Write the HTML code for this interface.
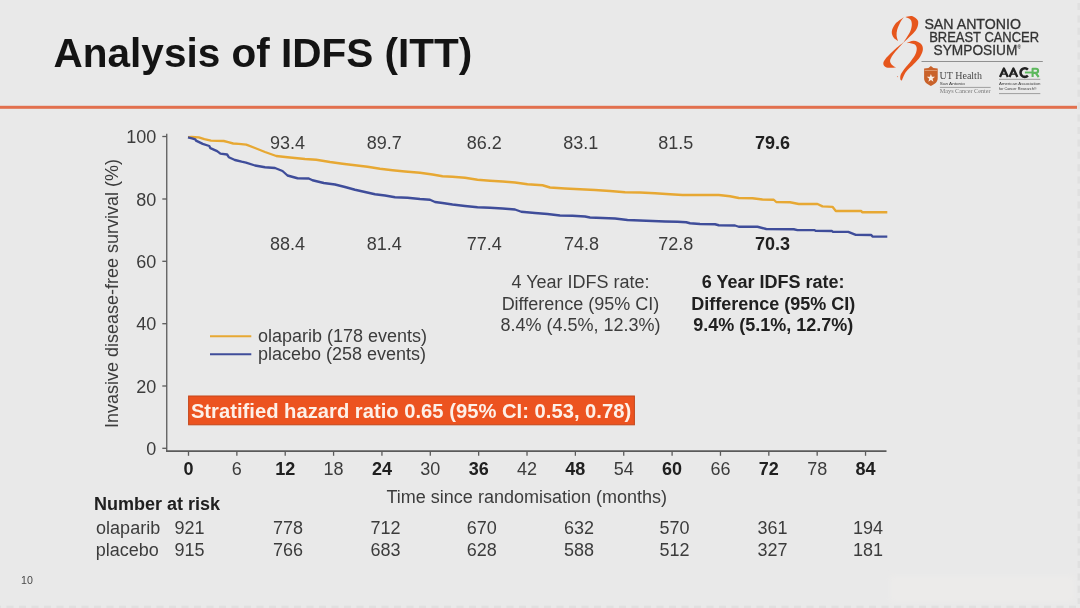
<!DOCTYPE html>
<html><head><meta charset="utf-8"><title>Analysis of IDFS (ITT)</title>
<style>
html,body{margin:0;padding:0;background:#e9e9e9;}
body{width:1080px;height:608px;overflow:hidden;position:relative;font-family:"Liberation Sans",sans-serif;}
svg{position:absolute;left:0;top:0;display:block;filter:blur(0.5px)}
text{font-family:"Liberation Sans",sans-serif;}
.n{font-size:18.0px;fill:#3c3c3c;}
.b{font-size:18.0px;fill:#202020;font-weight:bold;}
.serif{font-family:"Liberation Serif",serif;}
</style></head><body>
<svg width="1080" height="608" viewBox="0 0 1080 608">
<rect x="0" y="0" width="1080" height="608" fill="#e9e9e9"/>
<defs><filter id="soft" x="-10%" y="-40%" width="120%" height="180%"><feGaussianBlur stdDeviation="2.5"/></filter></defs>
<rect x="890" y="576" width="184" height="26" fill="#ecebea" filter="url(#soft)"/>

<text x="53.6" y="66.8" font-size="40.5" font-weight="bold" fill="#141414">Analysis of IDFS (ITT)</text>
<rect x="0" y="105.8" width="1077" height="3" fill="#e2704e"/>
<g stroke="#5a5a5a" stroke-width="1.3" fill="none">
<line x1="166.75" y1="133.75" x2="166.75" y2="451.7"/>
<line x1="166.1" y1="451.1" x2="886.5" y2="451.1" stroke-width="1.6"/>
<line x1="162.3" y1="136.5" x2="166.75" y2="136.5"/>
<line x1="162.3" y1="199.0" x2="166.75" y2="199.0"/>
<line x1="162.3" y1="261.3" x2="166.75" y2="261.3"/>
<line x1="162.3" y1="323.7" x2="166.75" y2="323.7"/>
<line x1="162.3" y1="386.0" x2="166.75" y2="386.0"/>
<line x1="162.3" y1="448.3" x2="166.75" y2="448.3"/>
<line x1="188.50" y1="451" x2="188.50" y2="455.8"/>
<line x1="236.86" y1="451" x2="236.86" y2="455.8"/>
<line x1="285.22" y1="451" x2="285.22" y2="455.8"/>
<line x1="333.58" y1="451" x2="333.58" y2="455.8"/>
<line x1="381.94" y1="451" x2="381.94" y2="455.8"/>
<line x1="430.30" y1="451" x2="430.30" y2="455.8"/>
<line x1="478.66" y1="451" x2="478.66" y2="455.8"/>
<line x1="527.02" y1="451" x2="527.02" y2="455.8"/>
<line x1="575.38" y1="451" x2="575.38" y2="455.8"/>
<line x1="623.74" y1="451" x2="623.74" y2="455.8"/>
<line x1="672.10" y1="451" x2="672.10" y2="455.8"/>
<line x1="720.46" y1="451" x2="720.46" y2="455.8"/>
<line x1="768.82" y1="451" x2="768.82" y2="455.8"/>
<line x1="817.18" y1="451" x2="817.18" y2="455.8"/>
<line x1="865.54" y1="451" x2="865.54" y2="455.8"/>
</g>
<text class="n" x="156.3" y="143.00" text-anchor="end">100</text>
<text class="n" x="156.3" y="205.50" text-anchor="end">80</text>
<text class="n" x="156.3" y="267.80" text-anchor="end">60</text>
<text class="n" x="156.3" y="330.20" text-anchor="end">40</text>
<text class="n" x="156.3" y="392.50" text-anchor="end">20</text>
<text class="n" x="156.3" y="454.80" text-anchor="end">0</text>
<text class="b" x="188.50" y="475.3" text-anchor="middle">0</text>
<text class="n" x="236.86" y="475.3" text-anchor="middle">6</text>
<text class="b" x="285.22" y="475.3" text-anchor="middle">12</text>
<text class="n" x="333.58" y="475.3" text-anchor="middle">18</text>
<text class="b" x="381.94" y="475.3" text-anchor="middle">24</text>
<text class="n" x="430.30" y="475.3" text-anchor="middle">30</text>
<text class="b" x="478.66" y="475.3" text-anchor="middle">36</text>
<text class="n" x="527.02" y="475.3" text-anchor="middle">42</text>
<text class="b" x="575.38" y="475.3" text-anchor="middle">48</text>
<text class="n" x="623.74" y="475.3" text-anchor="middle">54</text>
<text class="b" x="672.10" y="475.3" text-anchor="middle">60</text>
<text class="n" x="720.46" y="475.3" text-anchor="middle">66</text>
<text class="b" x="768.82" y="475.3" text-anchor="middle">72</text>
<text class="n" x="817.18" y="475.3" text-anchor="middle">78</text>
<text class="b" x="865.54" y="475.3" text-anchor="middle">84</text>
<text class="n" transform="translate(118.2,293.5) rotate(-90)" text-anchor="middle">Invasive disease-free survival (%)</text>
<text class="n" x="526.75" y="502.5" text-anchor="middle">Time since randomisation (months)</text>
<polyline points="188.00,137.20 191.60,137.00 198.80,137.40 204.30,139.20 211.00,140.60 217.10,140.90 223.80,141.00 228.20,142.20 233.20,143.50 238.80,143.90 246.25,144.60 255.00,148.00 265.00,152.00 276.25,156.00 287.50,157.25 305.00,159.00 316.25,159.75 330.00,162.00 342.50,163.75 355.00,165.25 367.50,166.75 380.00,168.75 392.50,170.25 405.00,171.50 420.00,172.75 432.50,174.50 442.50,176.25 452.50,176.75 465.00,177.75 477.50,179.75 490.00,180.75 502.50,181.50 515.00,182.50 527.50,184.25 542.50,185.25 550.00,187.50 565.00,188.50 580.00,189.25 595.00,190.00 610.00,191.00 625.00,192.25 640.00,192.50 655.00,193.25 670.00,194.25 682.50,195.00 700.00,195.00 718.75,195.00 730.00,196.25 738.75,198.00 752.50,198.25 762.50,199.50 773.75,199.75 776.25,202.00 790.00,202.25 798.75,204.00 817.50,204.00 822.50,206.40 832.50,206.80 835.80,211.00 861.25,211.00 862.20,212.25 887.30,212.25" fill="none" stroke="#e7a833" stroke-width="2.35" stroke-linejoin="round" stroke-linecap="butt"/>
<polyline points="188.00,137.30 192.00,138.30 195.30,139.30 196.00,140.60 202.70,143.90 209.30,146.00 210.40,148.20 217.10,151.10 220.40,153.60 227.10,154.50 228.80,157.20 234.90,160.00 241.60,161.70 246.00,162.60 255.00,165.50 265.00,167.25 275.00,168.00 282.50,171.00 287.50,175.50 297.50,178.25 308.75,178.50 312.50,180.25 323.75,183.00 335.00,184.50 345.00,187.00 355.00,189.75 365.00,192.00 375.00,194.25 385.00,195.50 395.00,197.25 407.50,197.75 420.00,199.00 430.00,199.75 435.00,202.00 442.50,203.00 452.50,204.50 465.00,206.00 477.50,207.25 490.00,207.75 502.50,208.50 515.00,209.50 521.25,211.75 535.00,213.00 547.50,214.00 560.00,215.50 572.50,215.75 585.00,216.50 590.00,217.50 602.50,218.00 615.00,218.50 627.50,220.00 640.00,220.50 652.50,221.00 665.00,221.50 677.50,221.75 686.25,222.25 690.00,223.25 700.00,224.00 715.00,224.25 718.75,225.25 735.00,225.50 738.75,226.75 757.50,226.75 766.25,229.00 793.75,229.25 797.50,230.10 814.60,230.10 815.60,230.90 832.00,231.00 833.00,231.90 848.30,231.90 855.80,234.80 871.25,235.00 872.50,236.50 887.30,236.60" fill="none" stroke="#3f4d9a" stroke-width="2.35" stroke-linejoin="round" stroke-linecap="butt"/>
<text class="n" x="287.5" y="149.3" text-anchor="middle">93.4</text>
<text class="n" x="384.2" y="149.3" text-anchor="middle">89.7</text>
<text class="n" x="484.3" y="149.3" text-anchor="middle">86.2</text>
<text class="n" x="580.8" y="149.3" text-anchor="middle">83.1</text>
<text class="n" x="675.8" y="149.3" text-anchor="middle">81.5</text>
<text class="n" x="287.5" y="250" text-anchor="middle">88.4</text>
<text class="n" x="384.2" y="250" text-anchor="middle">81.4</text>
<text class="n" x="484.3" y="250" text-anchor="middle">77.4</text>
<text class="n" x="581.5" y="250" text-anchor="middle">74.8</text>
<text class="n" x="675.8" y="250" text-anchor="middle">72.8</text>
<text class="b" x="772.6" y="149.3" text-anchor="middle">79.6</text>
<text class="b" x="772.6" y="250" text-anchor="middle">70.3</text>
<text class="n" x="580.5" y="288.25" text-anchor="middle">4 Year IDFS rate:</text>
<text class="n" x="580.5" y="310" text-anchor="middle">Difference (95% CI)</text>
<text class="n" x="580.5" y="331.25" text-anchor="middle">8.4% (4.5%, 12.3%)</text>
<text class="b" x="773.2" y="288.25" text-anchor="middle">6 Year IDFS rate:</text>
<text class="b" x="773.2" y="310" text-anchor="middle">Difference (95% CI)</text>
<text class="b" x="773.2" y="331.25" text-anchor="middle">9.4% (5.1%, 12.7%)</text>
<line x1="210" y1="336.3" x2="251.3" y2="336.3" stroke="#e7a833" stroke-width="2"/>
<line x1="210" y1="354.3" x2="251.3" y2="354.3" stroke="#3f4d9a" stroke-width="2"/>
<text class="n" x="258" y="341.8">olaparib (178 events)</text>
<text class="n" x="258" y="360">placebo (258 events)</text>
<rect x="188.6" y="396.0" width="445.8" height="28.8" fill="#ec5320" stroke="#c4461b" stroke-width="1"/>
<text x="190.9" y="417.8" font-size="20.7" font-weight="bold" fill="#fdf0e8" textLength="440.3" lengthAdjust="spacingAndGlyphs">Stratified hazard ratio 0.65 (95% CI: 0.53, 0.78)</text>
<text class="b" x="93.9" y="509.8">Number at risk</text>
<text class="n" x="96.1" y="534.2">olaparib</text>
<text class="n" x="95.7" y="555.8">placebo</text>
<text class="n" x="189.5" y="534.2" text-anchor="middle">921</text>
<text class="n" x="189.5" y="555.8" text-anchor="middle">915</text>
<text class="n" x="288" y="534.2" text-anchor="middle">778</text>
<text class="n" x="288" y="555.8" text-anchor="middle">766</text>
<text class="n" x="385.5" y="534.2" text-anchor="middle">712</text>
<text class="n" x="385.5" y="555.8" text-anchor="middle">683</text>
<text class="n" x="481.7" y="534.2" text-anchor="middle">670</text>
<text class="n" x="481.7" y="555.8" text-anchor="middle">628</text>
<text class="n" x="579" y="534.2" text-anchor="middle">632</text>
<text class="n" x="579" y="555.8" text-anchor="middle">588</text>
<text class="n" x="674.5" y="534.2" text-anchor="middle">570</text>
<text class="n" x="674.5" y="555.8" text-anchor="middle">512</text>
<text class="n" x="772.5" y="534.2" text-anchor="middle">361</text>
<text class="n" x="772.5" y="555.8" text-anchor="middle">327</text>
<text class="n" x="868" y="534.2" text-anchor="middle">194</text>
<text class="n" x="868" y="555.8" text-anchor="middle">181</text>
<text x="21.1" y="584" font-size="10.6" fill="#4a4a4a">10</text>
<line x1="0" y1="607" x2="1080" y2="607" stroke="#e0e0e0" stroke-width="2.6" stroke-dasharray="7 5.5" stroke-dashoffset="-6.5"/>
<line x1="1078.8" y1="0" x2="1078.8" y2="604" stroke="#e0e0e0" stroke-width="2.6" stroke-dasharray="7 5.4" stroke-dashoffset="-3"/>
<defs><filter id="lb" x="-5%" y="-5%" width="110%" height="110%"><feGaussianBlur stdDeviation="0.4"/></filter></defs>
<g id="logo" filter="url(#lb)">
<path fill="#e6561f" d="M903.70,17.30 C902.32,18.38 897.38,21.43 895.40,23.80 C893.42,26.17 892.10,29.22 891.80,31.50 C891.50,33.78 892.57,35.92 893.60,37.50 C894.63,39.08 897.27,40.42 898.00,41.00 C897.77,40.12 896.73,37.57 896.60,35.70 C896.47,33.83 896.62,31.97 897.20,29.80 C897.78,27.63 899.02,24.78 900.10,22.70 C901.18,20.62 903.10,18.20 903.70,17.30 Z"/>
<path fill="#e6561f" d="M905.50,17.00 C906.58,16.85 909.97,15.55 912.00,16.10 C914.03,16.65 916.75,18.62 917.70,20.30 C918.65,21.98 918.25,24.23 917.70,26.20 C917.15,28.17 915.95,30.12 914.40,32.10 C912.85,34.08 910.28,36.28 908.40,38.10 C906.52,39.92 903.98,42.18 903.10,43.00 C903.70,42.08 905.52,39.42 906.70,37.50 C907.88,35.58 909.35,33.58 910.20,31.50 C911.05,29.42 911.73,26.97 911.80,25.00 C911.87,23.03 911.65,21.03 910.60,19.70 C909.55,18.37 906.35,17.45 905.50,17.00 Z"/>
<path fill="#e6561f" d="M903.60,42.20 C902.03,43.48 897.05,47.33 894.20,49.90 C891.35,52.47 888.32,55.33 886.50,57.60 C884.68,59.87 883.30,61.85 883.30,63.50 C883.30,65.15 884.38,66.83 886.50,67.50 C888.62,68.17 894.42,67.50 896.00,67.50 C895.30,67.03 892.78,65.85 891.80,64.70 C890.82,63.55 889.90,62.27 890.10,60.60 C890.30,58.93 891.52,56.88 893.00,54.70 C894.48,52.52 897.23,49.58 899.00,47.50 C900.77,45.42 902.83,43.08 903.60,42.20 Z"/>
<path fill="#e6561f" d="M906.70,43.00 C907.88,42.63 911.43,40.67 913.80,40.80 C916.17,40.93 919.38,42.38 920.90,43.80 C922.42,45.22 923.00,47.20 922.90,49.30 C922.80,51.40 921.82,53.93 920.30,56.40 C918.78,58.87 916.17,61.53 913.80,64.10 C911.43,66.67 908.08,69.07 906.10,71.80 C904.12,74.53 902.60,79.05 901.90,80.50 C901.65,80.33 900.60,80.45 900.40,79.50 C900.20,78.55 900.05,76.57 900.70,74.80 C901.35,73.03 902.62,71.17 904.30,68.90 C905.98,66.63 908.93,63.67 910.80,61.20 C912.67,58.73 914.52,56.28 915.50,54.10 C916.48,51.92 916.88,49.75 916.70,48.10 C916.52,46.45 916.07,45.05 914.40,44.20 C912.73,43.35 907.98,43.20 906.70,43.00 Z"/>
<circle cx="897.5" cy="76.6" r="0.6" fill="#e6561f" opacity="0.6"/>
<text x="924.4" y="28.7" font-size="14.1" fill="#333" stroke="#333" stroke-width="0.3" textLength="96.6" lengthAdjust="spacingAndGlyphs">SAN ANTONIO</text>
<text x="929.2" y="42.2" font-size="14.1" fill="#333" stroke="#333" stroke-width="0.3" textLength="109.9" lengthAdjust="spacingAndGlyphs">BREAST CANCER</text>
<text x="933.6" y="55.2" font-size="14.1" fill="#333" stroke="#333" stroke-width="0.3" textLength="83.7" lengthAdjust="spacingAndGlyphs">SYMPOSIUM</text>
<text x="1017.6" y="48.9" font-size="4.6" font-weight="bold" fill="#333">®</text>
<line x1="921.5" y1="61.5" x2="1042.8" y2="61.5" stroke="#909090" stroke-width="1"/>
<path fill="#c9622c" d="M930.9,66.0 L933.4,67.9 L937.7,68.6 L937.7,78.4 C937.7,81.8 934.6,84.2 930.9,85.9 C927.2,84.2 924.1,81.8 924.1,78.4 L924.1,68.6 L928.4,67.9 Z"/>
<rect x="924.6" y="70.1" width="12.6" height="0.8" fill="#e3a27c"/>
<polygon fill="#f6eee6" points="930.90,73.90 931.93,76.78 934.99,76.87 932.56,78.74 933.43,81.68 930.90,79.95 928.37,81.68 929.24,78.74 926.81,76.87 929.87,76.78"/>
<text class="serif" x="939.6" y="78.8" font-size="10.6" fill="#484848" textLength="42.3" lengthAdjust="spacingAndGlyphs">UT Health</text>
<text x="939.8" y="85.2" font-size="3.9" fill="#3a3a3a" textLength="25" lengthAdjust="spacingAndGlyphs">San Antonio</text>
<line x1="939.9" y1="87.4" x2="990.6" y2="87.4" stroke="#8a8a8a" stroke-width="0.8"/>
<text class="serif" x="939.8" y="93.0" font-size="6.2" fill="#7a7a7a" textLength="50.8" lengthAdjust="spacingAndGlyphs">Mays Cancer Center</text>
<g fill="none" stroke-width="2.6" stroke-linejoin="round" stroke-linecap="butt">
<path stroke="#222" stroke-width="2.3" d="M1000.0,76.9 L1003.9,68.5 L1007.8,76.9"/>
<path stroke="#222" stroke-width="2.3" d="M1009.5,76.9 L1013.4,68.5 L1017.3,76.9"/>
<path stroke="#222" stroke-width="1.3" d="M1001.6,74.2 L1006.2,74.2 M1011.1,74.2 L1015.7,74.2"/>
<path stroke="#222" d="M1027.9,69.6 A4.3,4.3 0 1 0 1027.9,75.6"/>
<path stroke="#5cb85c" stroke-width="1.9" d="M1024.9,72.5 L1033,72.5"/>
<path stroke="#5cb85c" stroke-width="2.1" d="M1032.6,77 L1032.6,68.7 L1036.0,68.7 A2.1,2.1 0 0 1 1036.0,72.9 L1033,72.9 M1035.6,72.9 L1038.7,77"/>
</g>
<line x1="999" y1="79.3" x2="1040.3" y2="79.3" stroke="#8c8c8c" stroke-width="0.8"/>
<text x="999" y="84.9" font-size="4.1" fill="#3a3a3a" textLength="41.4" lengthAdjust="spacingAndGlyphs">American Association</text>
<text x="999" y="90.0" font-size="4.1" fill="#3a3a3a" textLength="37.6" lengthAdjust="spacingAndGlyphs">for Cancer Research®</text>
<line x1="999" y1="93.6" x2="1040.3" y2="93.6" stroke="#8c8c8c" stroke-width="0.8"/>
</g>
</svg></body></html>
